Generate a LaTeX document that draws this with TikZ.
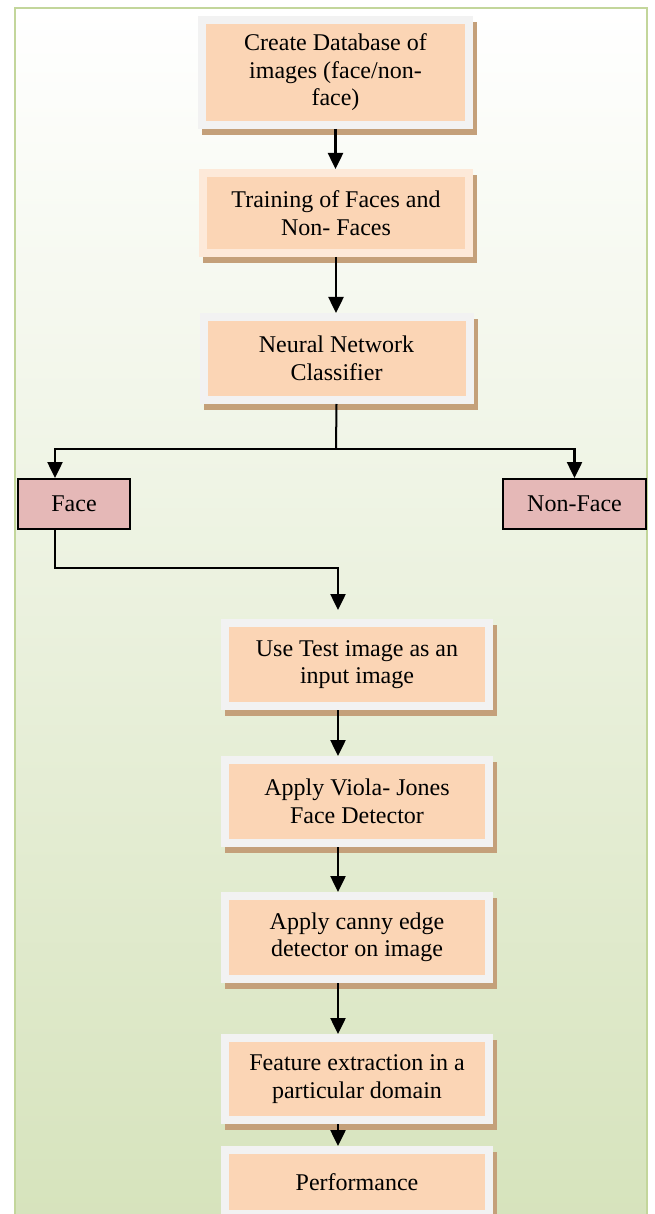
\documentclass[tikz,border=0pt]{standalone}
\usepackage{fontspec}
\setmainfont{Liberation Serif}
\usepackage{xcolor}
\usepackage{tikz}
\usetikzlibrary{arrows.meta}
\usetikzlibrary{calc}
\usetikzlibrary{shadows}

\definecolor{framegreen}{RGB}{195,214,155}
\definecolor{bggreen}{RGB}{214,227,188}
\definecolor{peach}{RGB}{251,213,181}
\definecolor{peachlight}{RGB}{253,233,217}
\definecolor{boxgray}{RGB}{242,242,242}
\definecolor{shadowtan}{RGB}{196,160,122}
\definecolor{rosebox}{RGB}{229,184,183}

\begin{document}
\begin{tikzpicture}[x=1pt, y=-1pt,
 stepbox/.style={fill=boxgray, minimum width=274pt, minimum height=91pt, inner sep=0pt, outer sep=0pt, align=center, font=\fontsize{24}{27.5}\selectfont,
  drop shadow={shadow xshift=4pt, shadow yshift=-6pt, fill=shadowtan, opacity=1},
  path picture={\fill[peach] ([xshift=8pt,yshift=8pt]path picture bounding box.south west) rectangle ([xshift=-8pt,yshift=-8pt]path picture bounding box.north east);}},
 classbox/.style={draw=black, line width=2pt, fill=rosebox, minimum width=112pt, minimum height=50pt, inner sep=0pt, font=\fontsize{24}{27.5}\selectfont},
 arr/.style={line width=2.5pt, -{Triangle[length=16pt, width=15pt]}},
 conn/.style={line width=2pt}]
 \useasboundingbox (0,0) rectangle (654,1214);
 \draw[framegreen, line width=2.5pt, top color=white, bottom color=bggreen] (15,8) rectangle (647,1224);

 \node[stepbox, minimum width=275pt, minimum height=113pt] (db) at (335.5,72.5) {Create Database of\\images (face/non-\\face)};
 \node[stepbox, fill=peachlight, minimum height=88pt] (train) at (336,213) {Training of Faces and\\Non- Faces};
 \node[stepbox] (nn) at (336.5,358.5) {Neural Network\\Classifier};

 \node[classbox] (face) at (74,504) {Face};
 \node[classbox, minimum width=143pt] (nonface) at (574.5,504) {Non-Face};

 \node[stepbox, minimum width=272pt] (test) at (357,664.5) {Use Test image as an\\input image};
 \node[stepbox, minimum width=272pt] (viola) at (357,801.5) {Apply Viola- Jones\\Face Detector};
 \node[stepbox, minimum width=272pt] (canny) at (357,937.5) {Apply canny edge\\detector on image};
 \node[stepbox, minimum width=272pt, minimum height=90pt] (feat) at (357,1079) {Feature extraction in a\\particular domain};
 \node[stepbox, minimum width=272pt, minimum height=72pt] (perf) at (357,1182) {Performance};

 \coordinate (split) at (336,449);
 \coordinate (fl) at (55,449);
 \coordinate (bend) at (338,568);
 \coordinate (spine) at (338,0);

 \draw[arr] (db.south) -- (db.south |- train.north);
 \draw[arr] (train.south) -- (train.south |- nn.north);
 \draw[conn] (nn.south) -- (split);
 \draw[arr] (split) -- (fl) -- (face.north -| fl);
 \draw[arr] (split) -| (nonface.north);
 \draw[arr, shorten >=9pt] (face.south -| fl) |- (bend) -- (bend |- test.north);

 \draw[arr] (test.south -| spine) -- (viola.north -| spine);
 \draw[arr] (viola.south -| spine) -- (canny.north -| spine);
 \draw[arr] (canny.south -| spine) -- (feat.north -| spine);
 \draw[arr] (feat.south -| spine) -- (perf.north -| spine);
\end{tikzpicture}
\end{document}
